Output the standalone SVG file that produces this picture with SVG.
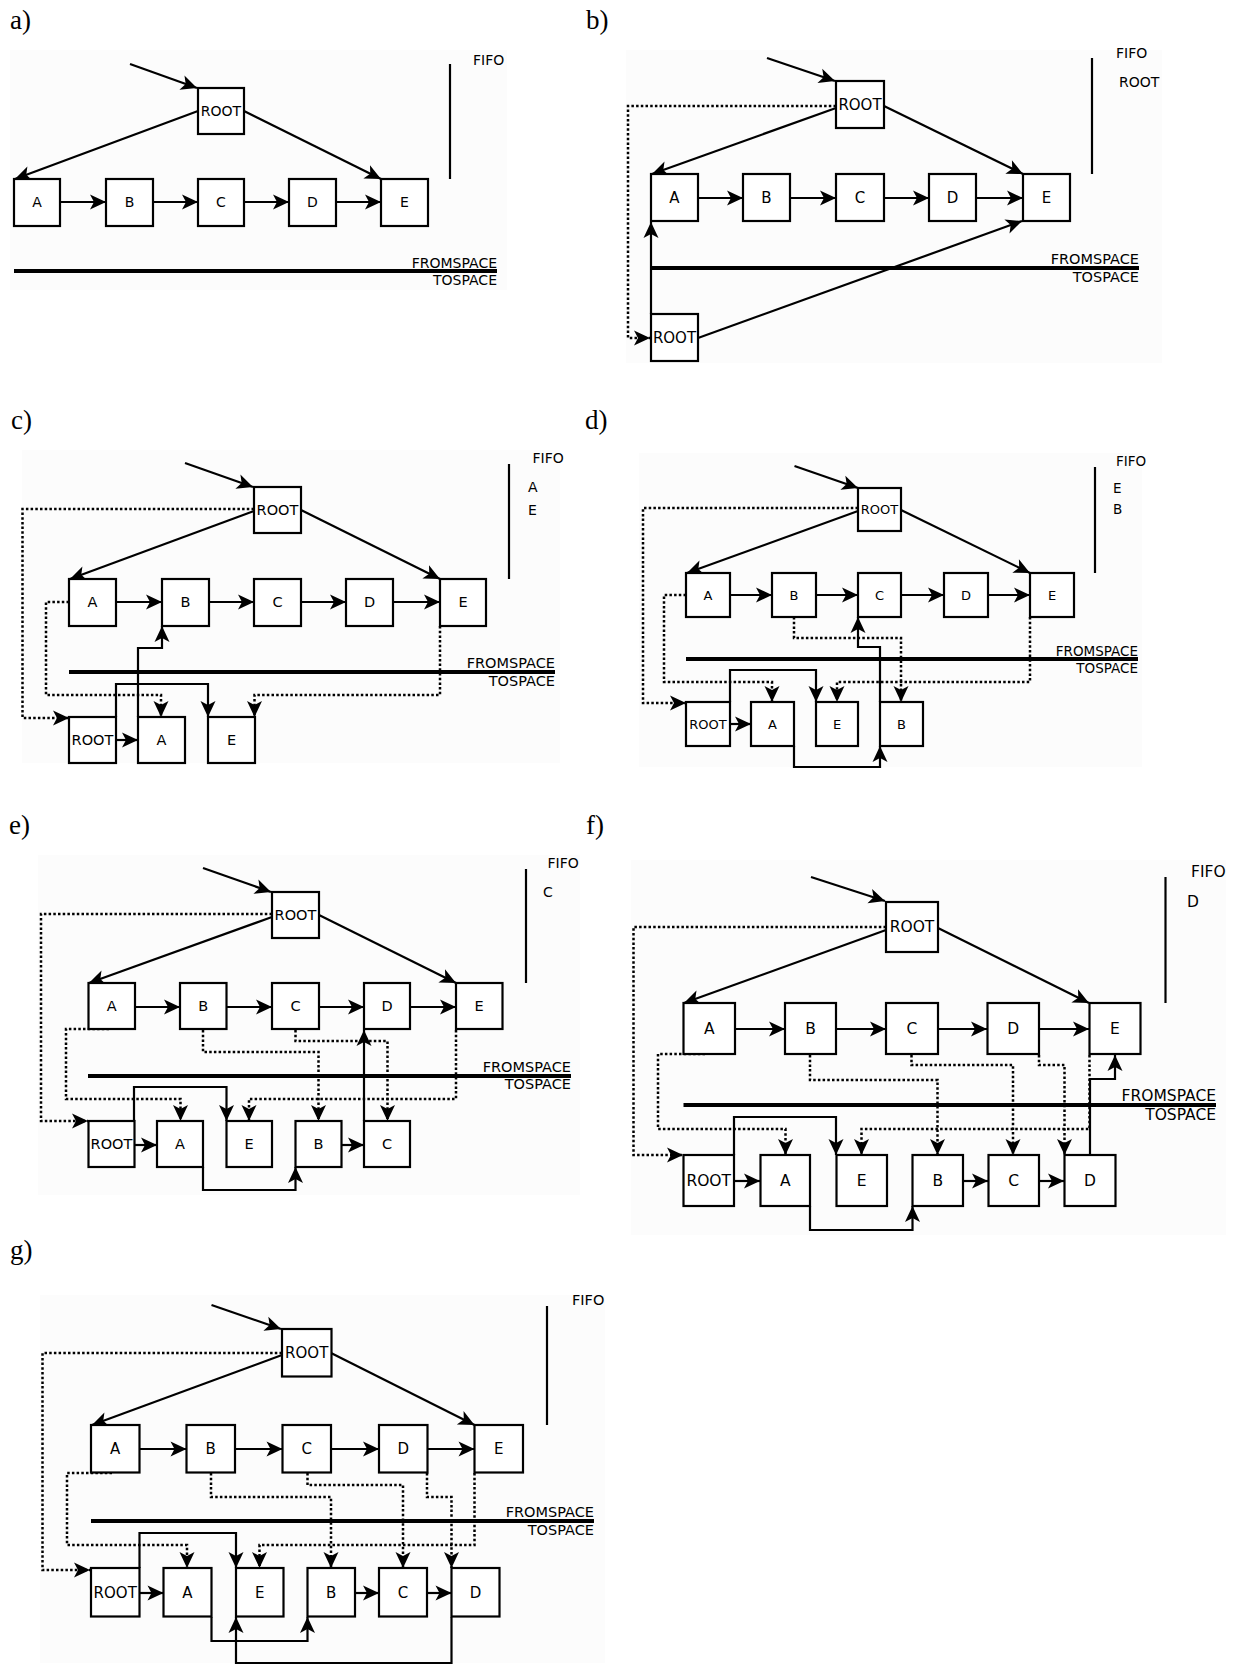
<svg xmlns="http://www.w3.org/2000/svg" width="1242" height="1665" viewBox="0 0 1242 1665">
<style>
.bg{fill:#fcfcfc}
.box{fill:#fff;stroke:#000;stroke-width:2.2}
.ln{fill:none;stroke:#000;stroke-width:2.2;marker-end:url(#ah)}
.pl{fill:none;stroke:#000;stroke-width:2.2}
.dt{fill:none;stroke:#000;stroke-width:2.5;stroke-dasharray:2.5 2.2;marker-end:url(#ah)}
.th{stroke:#000;stroke-width:4}
.bl{font-family:"DejaVu Sans",sans-serif;text-anchor:middle}
.tx{font-family:"DejaVu Sans",sans-serif}
.sp{font-family:"DejaVu Sans",sans-serif;text-anchor:end}
.cap{font-family:"Liberation Serif",serif;font-size:27px}
</style>
<defs>
<marker id="ah" viewBox="-17 -8 18 16" refX="0" refY="0" markerWidth="18" markerHeight="16" markerUnits="userSpaceOnUse" orient="auto"><path d="M0,0 L-16,-7.5 L-12,0 L-16,7.5 Z" fill="#000"/></marker>
</defs>
<rect width="1242" height="1665" fill="#fff"/>
<g id="backgrounds">
<rect class="bg" x="10" y="50" width="497" height="240"/>
<rect class="bg" x="626" y="50" width="536" height="313"/>
<rect class="bg" x="22" y="450" width="538" height="313"/>
<rect class="bg" x="639" y="453" width="503" height="314"/>
<rect class="bg" x="38" y="855" width="542" height="340"/>
<rect class="bg" x="631" y="860" width="595" height="375"/>
<rect class="bg" x="40" y="1295" width="565" height="368"/>
</g>

<!-- ===== Panel a ===== -->
<g id="panel-a">
<text class="cap" x="10" y="29">a)</text>
<g id="a-edges">
<path class="ln" d="M130,64 L197,88"/>
<path class="ln" d="M198,111 L15,179"/>
<path class="ln" d="M244,111 L381,179"/>
<path class="ln" d="M60,202 L106,202"/>
<path class="ln" d="M153,202 L198,202"/>
<path class="ln" d="M244,202 L289,202"/>
<path class="ln" d="M336,202 L381,202"/>
</g>
<g id="a-root"><rect class="box" x="198" y="88" width="46" height="46"/><text class="bl" font-size="14" x="221" y="116">ROOT</text></g>
<g id="a-A"><rect class="box" x="14" y="179" width="46" height="47"/><text class="bl" font-size="14" x="37" y="207">A</text></g>
<g id="a-B"><rect class="box" x="106" y="179" width="47" height="47"/><text class="bl" font-size="14" x="129.5" y="207">B</text></g>
<g id="a-C"><rect class="box" x="198" y="179" width="46" height="47"/><text class="bl" font-size="14" x="221" y="207">C</text></g>
<g id="a-D"><rect class="box" x="289" y="179" width="47" height="47"/><text class="bl" font-size="14" x="312.5" y="207">D</text></g>
<g id="a-E"><rect class="box" x="381" y="179" width="47" height="47"/><text class="bl" font-size="14" x="404.5" y="207">E</text></g>
<g id="a-fifo"><path class="pl" d="M450,64 L450,179"/><text class="tx" font-size="14" x="473" y="65">FIFO</text></g>
<g id="a-space"><path class="th" d="M14,271 L497,271"/><text class="sp" font-size="14" x="497" y="268">FROMSPACE</text><text class="sp" font-size="14" x="497" y="285">TOSPACE</text></g>
</g>

<!-- ===== Panel b ===== -->
<g id="panel-b">
<text class="cap" x="586" y="29">b)</text>
<g id="b-edges">
<path class="ln" d="M767,58 L835,81"/>
<path class="ln" d="M836,108 L652,174"/>
<path class="ln" d="M884,106 L1023,174"/>
<path class="ln" d="M698,198 L743,198"/>
<path class="ln" d="M790,198 L836,198"/>
<path class="ln" d="M884,198 L929,198"/>
<path class="ln" d="M976,198 L1023,198"/>
<path class="ln" d="M651,314 L651,222"/>
<path class="ln" d="M698,338 L1022,221"/>
<path class="dt" d="M836,106 L628,106 L628,338 L650,338"/>
</g>
<g id="b-root"><rect class="box" x="836" y="81" width="48" height="47"/><text class="bl" font-size="15" x="860" y="110">ROOT</text></g>
<g id="b-A"><rect class="box" x="651" y="174" width="47" height="47"/><text class="bl" font-size="15" x="674.5" y="203">A</text></g>
<g id="b-B"><rect class="box" x="743" y="174" width="47" height="47"/><text class="bl" font-size="15" x="766.5" y="203">B</text></g>
<g id="b-C"><rect class="box" x="836" y="174" width="48" height="47"/><text class="bl" font-size="15" x="860" y="203">C</text></g>
<g id="b-D"><rect class="box" x="929" y="174" width="47" height="47"/><text class="bl" font-size="15" x="952.5" y="203">D</text></g>
<g id="b-E"><rect class="box" x="1023" y="174" width="47" height="47"/><text class="bl" font-size="15" x="1046.5" y="203">E</text></g>
<g id="b-root2"><rect class="box" x="651" y="314" width="47" height="47"/><text class="bl" font-size="15" x="674.5" y="343">ROOT</text></g>
<g id="b-fifo"><path class="pl" d="M1092,58 L1092,174"/><text class="tx" font-size="14" x="1116" y="58">FIFO</text><text class="tx" font-size="14" x="1119" y="87">ROOT</text></g>
<g id="b-space"><path class="th" d="M651,268 L1139,268"/><text class="sp" font-size="14.5" x="1139" y="264">FROMSPACE</text><text class="sp" font-size="14.5" x="1139" y="282">TOSPACE</text></g>
</g>

<!-- ===== Panel c ===== -->
<g id="panel-c">
<text class="cap" x="11" y="429">c)</text>
<g id="c-edges">
<path class="ln" d="M185,463 L253,487"/>
<path class="ln" d="M254,511 L70,579"/>
<path class="ln" d="M301,510 L440,579"/>
<path class="ln" d="M116,602 L162,602"/>
<path class="ln" d="M209,602 L254,602"/>
<path class="ln" d="M301,602 L346,602"/>
<path class="ln" d="M393,602 L440,602"/>
<path class="ln" d="M116,740 L138,740"/>
<path class="ln" d="M116,717 L116,684 L208,684 L208,717"/>
<path class="ln" d="M138,717 L138,648 L162,648 L162,626"/>
<path class="dt" d="M254,509 L22.5,509 L22.5,718 L69,718"/>
<path class="dt" d="M69,602 L46,602 L46,695 L161,695 L161,717"/>
<path class="dt" d="M440,626 L440,695 L254.5,695 L254.5,717"/>
</g>
<g id="c-root"><rect class="box" x="254" y="487" width="47" height="46"/><text class="bl" font-size="14.5" x="277.5" y="515">ROOT</text></g>
<g id="c-A"><rect class="box" x="69" y="579" width="47" height="47"/><text class="bl" font-size="14.5" x="92.5" y="607">A</text></g>
<g id="c-B"><rect class="box" x="162" y="579" width="47" height="47"/><text class="bl" font-size="14.5" x="185.5" y="607">B</text></g>
<g id="c-C"><rect class="box" x="254" y="579" width="47" height="47"/><text class="bl" font-size="14.5" x="277.5" y="607">C</text></g>
<g id="c-D"><rect class="box" x="346" y="579" width="47" height="47"/><text class="bl" font-size="14.5" x="369.5" y="607">D</text></g>
<g id="c-E"><rect class="box" x="440" y="579" width="46" height="47"/><text class="bl" font-size="14.5" x="463" y="607">E</text></g>
<g id="c-root2"><rect class="box" x="69" y="717" width="47" height="46"/><text class="bl" font-size="14.5" x="92.5" y="745">ROOT</text></g>
<g id="c-A2"><rect class="box" x="138" y="717" width="47" height="46"/><text class="bl" font-size="14.5" x="161.5" y="745">A</text></g>
<g id="c-E2"><rect class="box" x="208" y="717" width="47" height="46"/><text class="bl" font-size="14.5" x="231.5" y="745">E</text></g>
<g id="c-fifo"><path class="pl" d="M509,464 L509,579"/><text class="tx" font-size="14" x="532.5" y="463">FIFO</text><text class="tx" font-size="14" x="528" y="492">A</text><text class="tx" font-size="14" x="528" y="515">E</text></g>
<g id="c-space"><path class="th" d="M69,672 L555,672"/><text class="sp" font-size="14.5" x="555" y="668">FROMSPACE</text><text class="sp" font-size="14.5" x="555" y="686">TOSPACE</text></g>
</g>

<!-- ===== Panel d ===== -->
<g id="panel-d">
<text class="cap" x="585" y="429">d)</text>
<g id="d-edges">
<path class="ln" d="M794.5,466 L858,488"/>
<path class="ln" d="M858,511 L687,573"/>
<path class="ln" d="M901,510 L1030,573"/>
<path class="ln" d="M730,595 L772,595"/>
<path class="ln" d="M816,595 L858,595"/>
<path class="ln" d="M901,595 L944,595"/>
<path class="ln" d="M988,595 L1030,595"/>
<path class="ln" d="M730,724 L751,724"/>
<path class="ln" d="M730,702 L730,670 L816,670 L816,702"/>
<path class="ln" d="M794,746 L794,767 L880,767 L880,746"/>
<path class="ln" d="M880,702 L880,647 L858,647 L858,617"/>
<path class="dt" d="M858,508 L643,508 L643,703 L686,703"/>
<path class="dt" d="M686,595 L664,595 L664,682 L772,682 L772,702"/>
<path class="dt" d="M794,617 L794,638 L901,638 L901,702"/>
<path class="dt" d="M1030,617 L1030,682 L837,682 L837,702"/>
</g>
<g id="d-root"><rect class="box" x="858" y="488" width="43" height="43"/><text class="bl" font-size="13" x="879.5" y="514">ROOT</text></g>
<g id="d-A"><rect class="box" x="686" y="573" width="44" height="44"/><text class="bl" font-size="13" x="708" y="600">A</text></g>
<g id="d-B"><rect class="box" x="772" y="573" width="44" height="44"/><text class="bl" font-size="13" x="794" y="600">B</text></g>
<g id="d-C"><rect class="box" x="858" y="573" width="43" height="44"/><text class="bl" font-size="13" x="879.5" y="600">C</text></g>
<g id="d-D"><rect class="box" x="944" y="573" width="44" height="44"/><text class="bl" font-size="13" x="966" y="600">D</text></g>
<g id="d-E"><rect class="box" x="1030" y="573" width="44" height="44"/><text class="bl" font-size="13" x="1052" y="600">E</text></g>
<g id="d-root2"><rect class="box" x="686" y="702" width="44" height="44"/><text class="bl" font-size="13" x="708" y="729">ROOT</text></g>
<g id="d-A2"><rect class="box" x="751" y="702" width="43" height="44"/><text class="bl" font-size="13" x="772.5" y="729">A</text></g>
<g id="d-E2"><rect class="box" x="816" y="702" width="42" height="44"/><text class="bl" font-size="13" x="837" y="729">E</text></g>
<g id="d-B2"><rect class="box" x="880" y="702" width="43" height="44"/><text class="bl" font-size="13" x="901.5" y="729">B</text></g>
<g id="d-fifo"><path class="pl" d="M1095,467 L1095,573"/><text class="tx" font-size="13.5" x="1116" y="466">FIFO</text><text class="tx" font-size="13.5" x="1113" y="493">E</text><text class="tx" font-size="13.5" x="1113" y="514">B</text></g>
<g id="d-space"><path class="th" d="M686,659 L1138,659"/><text class="sp" font-size="13.5" x="1138" y="656">FROMSPACE</text><text class="sp" font-size="13.5" x="1138" y="673">TOSPACE</text></g>
</g>

<!-- ===== Panel e ===== -->
<g id="panel-e">
<text class="cap" x="9" y="834">e)</text>
<g id="e-edges">
<path class="ln" d="M203,868 L271,892"/>
<path class="ln" d="M272,917 L89,983"/>
<path class="ln" d="M319,915 L456,983"/>
<path class="ln" d="M135,1007 L180,1007"/>
<path class="ln" d="M227,1007 L272,1007"/>
<path class="ln" d="M319,1007 L364,1007"/>
<path class="ln" d="M410,1007 L456,1007"/>
<path class="ln" d="M134,1145 L157,1145"/>
<path class="ln" d="M342,1145 L364,1145"/>
<path class="ln" d="M134,1121 L134,1087 L226.5,1087 L226.5,1121"/>
<path class="ln" d="M203,1167 L203,1190 L295.5,1190 L295.5,1167"/>
<path class="ln" d="M364,1121 L364,1030"/>
<path class="dt" d="M272,914 L41,914 L41,1121 L88,1121"/>
<path class="dt" d="M109,1029 L66,1029 L66,1099 L180.5,1099 L180.5,1121"/>
<path class="dt" d="M203,1030 L203,1052 L318.5,1052 L318.5,1121"/>
<path class="dt" d="M295.5,1030 L295.5,1041 L387.5,1041 L387.5,1121"/>
<path class="dt" d="M456,1030 L456,1099 L249,1099 L249,1121"/>
</g>
<g id="e-root"><rect class="box" x="272" y="892" width="47" height="46"/><text class="bl" font-size="14.5" x="295.5" y="920">ROOT</text></g>
<g id="e-A"><rect class="box" x="88.5" y="983" width="46.5" height="46"/><text class="bl" font-size="14.5" x="111.7" y="1011">A</text></g>
<g id="e-B"><rect class="box" x="180" y="983" width="46.5" height="46"/><text class="bl" font-size="14.5" x="203.2" y="1011">B</text></g>
<g id="e-C"><rect class="box" x="272" y="983" width="47" height="46"/><text class="bl" font-size="14.5" x="295.5" y="1011">C</text></g>
<g id="e-D"><rect class="box" x="364" y="983" width="46" height="46"/><text class="bl" font-size="14.5" x="387" y="1011">D</text></g>
<g id="e-E"><rect class="box" x="456" y="983" width="46.5" height="46"/><text class="bl" font-size="14.5" x="479.2" y="1011">E</text></g>
<g id="e-root2"><rect class="box" x="88.5" y="1121" width="46" height="46"/><text class="bl" font-size="14.5" x="111.5" y="1149">ROOT</text></g>
<g id="e-A2"><rect class="box" x="157" y="1121" width="46" height="46"/><text class="bl" font-size="14.5" x="180" y="1149">A</text></g>
<g id="e-E2"><rect class="box" x="226.5" y="1121" width="45.5" height="46"/><text class="bl" font-size="14.5" x="249.2" y="1149">E</text></g>
<g id="e-B2"><rect class="box" x="295.5" y="1121" width="46" height="46"/><text class="bl" font-size="14.5" x="318.5" y="1149">B</text></g>
<g id="e-C2"><rect class="box" x="364" y="1121" width="46" height="46"/><text class="bl" font-size="14.5" x="387" y="1149">C</text></g>
<g id="e-fifo"><path class="pl" d="M526,869 L526,983"/><text class="tx" font-size="14" x="547.5" y="868">FIFO</text><text class="tx" font-size="14" x="543" y="897">C</text></g>
<g id="e-space"><path class="th" d="M88,1076 L571,1076"/><text class="sp" font-size="14.5" x="571" y="1072">FROMSPACE</text><text class="sp" font-size="14.5" x="571" y="1089">TOSPACE</text></g>
</g>

<!-- ===== Panel f ===== -->
<g id="panel-f">
<text class="cap" x="586" y="834">f)</text>
<g id="f-edges">
<path class="ln" d="M811,877 L885,901"/>
<path class="ln" d="M886,930 L684,1003"/>
<path class="ln" d="M938,928 L1089,1003"/>
<path class="ln" d="M735,1029 L785,1029"/>
<path class="ln" d="M836,1029 L886,1029"/>
<path class="ln" d="M938,1029 L987,1029"/>
<path class="ln" d="M1039,1029 L1089,1029"/>
<path class="ln" d="M734,1181 L760,1181"/>
<path class="ln" d="M963,1181 L988,1181"/>
<path class="ln" d="M1039,1181 L1064,1181"/>
<path class="ln" d="M734,1155 L734,1117 L836,1117 L836,1155"/>
<path class="ln" d="M810,1206 L810,1230 L912.5,1230 L912.5,1206"/>
<path class="ln" d="M1090,1155 L1090,1079 L1115,1079 L1115,1055"/>
<path class="dt" d="M886,927 L633.5,927 L633.5,1155 L683,1155"/>
<path class="dt" d="M705,1054 L658,1054 L658,1129 L785.5,1129 L785.5,1155"/>
<path class="dt" d="M810,1055 L810,1080 L937.5,1080 L937.5,1155"/>
<path class="dt" d="M911.5,1055 L911.5,1065 L1013,1065 L1013,1155"/>
<path class="dt" d="M1039,1055 L1039,1065 L1064.5,1065 L1064.5,1155"/>
<path class="dt" d="M1089.5,1055 L1089.5,1129 L861.5,1129 L861.5,1155"/>
</g>
<g id="f-root"><rect class="box" x="886" y="902" width="52" height="50"/><text class="bl" font-size="15.5" x="912" y="932">ROOT</text></g>
<g id="f-A"><rect class="box" x="683.5" y="1003" width="51.5" height="51"/><text class="bl" font-size="15.5" x="709.2" y="1034">A</text></g>
<g id="f-B"><rect class="box" x="785" y="1003" width="51" height="51"/><text class="bl" font-size="15.5" x="810.5" y="1034">B</text></g>
<g id="f-C"><rect class="box" x="886" y="1003" width="52" height="51"/><text class="bl" font-size="15.5" x="912" y="1034">C</text></g>
<g id="f-D"><rect class="box" x="987.5" y="1003" width="51.5" height="51"/><text class="bl" font-size="15.5" x="1013.2" y="1034">D</text></g>
<g id="f-E"><rect class="box" x="1089.5" y="1003" width="51" height="51"/><text class="bl" font-size="15.5" x="1115" y="1034">E</text></g>
<g id="f-root2"><rect class="box" x="683.5" y="1155" width="50.5" height="51"/><text class="bl" font-size="15.5" x="708.7" y="1186">ROOT</text></g>
<g id="f-A2"><rect class="box" x="760.5" y="1155" width="49.5" height="51"/><text class="bl" font-size="15.5" x="785.2" y="1186">A</text></g>
<g id="f-E2"><rect class="box" x="836.5" y="1155" width="50.5" height="51"/><text class="bl" font-size="15.5" x="861.7" y="1186">E</text></g>
<g id="f-B2"><rect class="box" x="912.5" y="1155" width="50.5" height="51"/><text class="bl" font-size="15.5" x="937.7" y="1186">B</text></g>
<g id="f-C2"><rect class="box" x="988.5" y="1155" width="50.5" height="51"/><text class="bl" font-size="15.5" x="1013.7" y="1186">C</text></g>
<g id="f-D2"><rect class="box" x="1064.5" y="1155" width="51" height="51"/><text class="bl" font-size="15.5" x="1090" y="1186">D</text></g>
<g id="f-fifo"><path class="pl" d="M1165.5,877 L1165.5,1003"/><text class="tx" font-size="15.5" x="1191" y="877">FIFO</text><text class="tx" font-size="15.5" x="1187" y="907">D</text></g>
<g id="f-space"><path class="th" d="M683.5,1105 L1216,1105" stroke-width="4.5"/><text class="sp" font-size="15.5" x="1216" y="1101">FROMSPACE</text><text class="sp" font-size="15.5" x="1216" y="1120">TOSPACE</text></g>
</g>

<!-- ===== Panel g ===== -->
<g id="panel-g">
<text class="cap" x="10" y="1259">g)</text>
<g id="g-edges">
<path class="ln" d="M211.5,1305 L281,1329"/>
<path class="ln" d="M282,1355 L92,1425"/>
<path class="ln" d="M331,1353 L474.5,1425"/>
<path class="ln" d="M139.5,1449 L186.5,1449"/>
<path class="ln" d="M235,1449 L282.5,1449"/>
<path class="ln" d="M331,1449 L379,1449"/>
<path class="ln" d="M427.5,1449 L474.5,1449"/>
<path class="ln" d="M139.5,1593 L163.5,1593"/>
<path class="ln" d="M355,1593 L379,1593"/>
<path class="ln" d="M427,1593 L451.5,1593"/>
<path class="ln" d="M139.5,1568 L139.5,1533 L236,1533 L236,1568"/>
<path class="ln" d="M211.5,1617 L211.5,1641 L307.5,1641 L307.5,1617"/>
<path class="ln" d="M451.5,1617 L451.5,1663 L236,1663 L236,1617"/>
<path class="dt" d="M282,1353 L42.5,1353 L42.5,1570 L90,1570"/>
<path class="dt" d="M112,1473 L67,1473 L67,1545 L187,1545 L187,1568"/>
<path class="dt" d="M211,1473 L211,1497 L331,1497 L331,1568"/>
<path class="dt" d="M307.5,1473 L307.5,1485 L403,1485 L403,1568"/>
<path class="dt" d="M427,1473 L427,1497 L451.5,1497 L451.5,1568"/>
<path class="dt" d="M474.5,1473 L474.5,1545 L259.5,1545 L259.5,1568"/>
</g>
<g id="g-root"><rect class="box" x="282" y="1329" width="49.5" height="47.5"/><text class="bl" font-size="15" x="306.7" y="1358">ROOT</text></g>
<g id="g-A"><rect class="box" x="91" y="1425" width="48.5" height="47.5"/><text class="bl" font-size="15" x="115.2" y="1454">A</text></g>
<g id="g-B"><rect class="box" x="186.5" y="1425" width="48.5" height="47.5"/><text class="bl" font-size="15" x="210.7" y="1454">B</text></g>
<g id="g-C"><rect class="box" x="282.5" y="1425" width="48.5" height="47.5"/><text class="bl" font-size="15" x="306.7" y="1454">C</text></g>
<g id="g-D"><rect class="box" x="379" y="1425" width="48.5" height="47.5"/><text class="bl" font-size="15" x="403.2" y="1454">D</text></g>
<g id="g-E"><rect class="box" x="474.5" y="1425" width="48.5" height="47.5"/><text class="bl" font-size="15" x="498.7" y="1454">E</text></g>
<g id="g-root2"><rect class="box" x="91" y="1568" width="48.5" height="48.5"/><text class="bl" font-size="15" x="115.2" y="1598">ROOT</text></g>
<g id="g-A2"><rect class="box" x="163.5" y="1568" width="48" height="48.5"/><text class="bl" font-size="15" x="187.5" y="1598">A</text></g>
<g id="g-E2"><rect class="box" x="236" y="1568" width="47.5" height="48.5"/><text class="bl" font-size="15" x="259.7" y="1598">E</text></g>
<g id="g-B2"><rect class="box" x="307.5" y="1568" width="47.5" height="48.5"/><text class="bl" font-size="15" x="331.2" y="1598">B</text></g>
<g id="g-C2"><rect class="box" x="379" y="1568" width="48" height="48.5"/><text class="bl" font-size="15" x="403" y="1598">C</text></g>
<g id="g-D2"><rect class="box" x="451.5" y="1568" width="48" height="48.5"/><text class="bl" font-size="15" x="475.5" y="1598">D</text></g>
<g id="g-fifo"><path class="pl" d="M547,1306 L547,1425"/><text class="tx" font-size="14.5" x="572" y="1305">FIFO</text></g>
<g id="g-space"><path class="th" d="M91,1521 L594,1521"/><text class="sp" font-size="14.5" x="594" y="1517">FROMSPACE</text><text class="sp" font-size="14.5" x="594" y="1535">TOSPACE</text></g>
</g>
</svg>
